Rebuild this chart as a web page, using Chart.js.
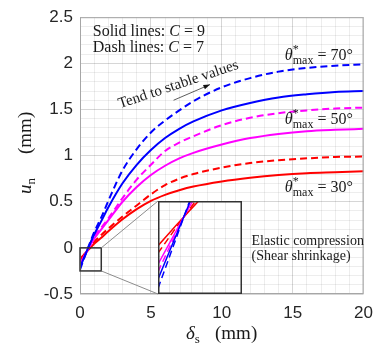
<!DOCTYPE html>
<html>
<head>
<meta charset="utf-8">
<script src="https://cdn.jsdelivr.net/npm/chart.js@4.4.0/dist/chart.umd.min.js"></script>
<style>
  body { margin: 0; background: #fff; }
  #wrap { position: relative; width: 382px; height: 352px; }
  #inset { position: absolute; left: 158px; top: 201px; }
</style>
</head>
<body>
<div id="wrap">
  <canvas id="main" width="382" height="352"></canvas>
  <canvas id="inset" width="84" height="93"></canvas>
</div>
<script>
// shear displacement delta_s (mm)
const slip = [0, 0.25, 0.5, 0.75, 1, 1.5, 2, 3, 4, 5, 6, 7, 8, 10, 12, 14, 16, 18, 20];

// normal displacement u_n (mm), solid = C 9, dashed = C 7
const blueC9 = [-0.21, -0.119, -0.028, 0.06, 0.145, 0.29, 0.44, 0.70, 0.90, 1.06, 1.19, 1.29, 1.37, 1.49, 1.57, 1.63, 1.665, 1.69, 1.70];
const blueC7 = [-0.235, -0.131, -0.027, 0.074, 0.17, 0.33, 0.51, 0.84, 1.07, 1.25, 1.38, 1.49, 1.59, 1.74, 1.84, 1.91, 1.95, 1.975, 1.99];
const magC9 = [-0.17, -0.101, -0.032, 0.035, 0.10, 0.20, 0.30, 0.50, 0.66, 0.79, 0.89, 0.97, 1.03, 1.12, 1.19, 1.235, 1.265, 1.28, 1.29];
const magC7 = [-0.19, -0.11, -0.030, 0.048, 0.125, 0.22, 0.32, 0.54, 0.74, 0.90, 1.05, 1.14, 1.21, 1.33, 1.41, 1.46, 1.49, 1.51, 1.52];
const redC9 = [-0.12, -0.078, -0.036, 0.004, 0.045, 0.11, 0.18, 0.31, 0.42, 0.51, 0.575, 0.625, 0.665, 0.72, 0.76, 0.79, 0.81, 0.82, 0.83];
const redC7 = [-0.14, -0.087, -0.035, 0.016, 0.065, 0.14, 0.21, 0.34, 0.46, 0.58, 0.68, 0.75, 0.80, 0.87, 0.92, 0.95, 0.97, 0.985, 0.99];

const xTicks = [0, 5, 10, 15, 20];
const yTicks = [-0.5, 0, 0.5, 1, 1.5, 2, 2.5];

const SERIF = '"Liberation Serif", "DejaVu Serif", serif';
const SANS = '"Liberation Sans", Arial, sans-serif';

function pts(ys) {
    return slip.map((x, i) => ({ x: x, y: ys[i] }));
}

function makeDatasets(width) {
    const series = [
        [blueC9, '#0000ff', false], [blueC7, '#0000ff', true],
        [magC9, '#ff00ff', false], [magC7, '#ff00ff', true],
        [redC9, '#ff0000', false], [redC7, '#ff0000', true]
    ];
    return series.map(s => ({
        data: pts(s[0]),
        borderColor: s[1],
        borderWidth: width,
        borderDash: s[2] ? [7, 4] : [],
        pointRadius: 0,
        fill: false,
        cubicInterpolationMode: 'monotone'
    }));
}

function isMajor(v, list) {
    return list.some(t => Math.abs(t - v) < 1e-6);
}

// draws text parts one after another; part.stack puts it at the previous part's x,
// part.at puts it at a fixed offset from the start
function drawParts(ctx, x, y, parts) {
    let cx = x, lastX = x;
    parts.forEach(p => {
        ctx.font = p.font;
        let px = p.stack ? lastX : cx;
        if (p.at !== undefined) px = x + p.at;
        ctx.fillText(p.t, px, y + (p.dy || 0));
        const w = ctx.measureText(p.t).width;
        lastX = px;
        cx = Math.max(cx, px + w);
    });
}

function thetaParts(deg) {
    return [
        { t: 'θ', font: 'italic 16px ' + SERIF },
        { t: '*', font: '12px ' + SERIF, dy: -7 },
        { t: 'max', font: '12px ' + SERIF, dy: 4, stack: true },
        { t: ' = ' + deg + '°', font: '16px ' + SERIF }
    ];
}

const overlay = {
    id: 'overlay',
    afterDatasetsDraw(chart) {
        const ctx = chart.ctx;
        const xs = chart.scales.x, ys = chart.scales.y;
        const a = chart.chartArea;
        const X = v => xs.getPixelForValue(v), Y = v => ys.getPixelForValue(v);
        ctx.save();

        // frame
        ctx.strokeStyle = '#a6a6a6';
        ctx.lineWidth = 1;
        ctx.strokeRect(a.left + 0.5, a.top + 0.5, a.right - a.left - 1, a.bottom - a.top - 1);

        // zoom box and connectors
        ctx.strokeStyle = '#333';
        ctx.lineWidth = 1.5;
        ctx.strokeRect(X(0), Y(0), X(1.5) - X(0), Y(-0.25) - Y(0));
        ctx.strokeStyle = '#8c8c8c';
        ctx.lineWidth = 1;
        ctx.beginPath();
        ctx.moveTo(X(1.5), Y(0)); ctx.lineTo(158, 201);
        ctx.moveTo(X(1.5), Y(-0.25)); ctx.lineTo(158, 294);
        ctx.stroke();

        ctx.fillStyle = '#1a1a1a';
        ctx.textBaseline = 'alphabetic';
        ctx.textAlign = 'left';
        drawParts(ctx, X(0.9), Y(2.30), [
            { t: 'Solid lines: ', font: '16px ' + SERIF },
            { t: 'C', font: 'italic 16px ' + SERIF },
            { t: ' = 9', font: '16px ' + SERIF }
        ]);
        drawParts(ctx, X(0.9), Y(2.12), [
            { t: 'Dash lines: ', font: '16px ' + SERIF },
            { t: 'C', font: 'italic 16px ' + SERIF },
            { t: ' = 7', font: '16px ' + SERIF }
        ]);
        drawParts(ctx, X(14.45), Y(2.04), thetaParts(70));
        drawParts(ctx, X(14.45), Y(1.34), thetaParts(50));
        drawParts(ctx, X(14.45), Y(0.61), thetaParts(30));

        drawParts(ctx, X(12.1), Y(0.03), [{ t: 'Elastic compression', font: '14px ' + SERIF }]);
        drawParts(ctx, X(12.1), Y(-0.13), [{ t: '(Shear shrinkage)', font: '14px ' + SERIF }]);

        // rotated note with arrow
        ctx.save();
        ctx.translate(X(6.94), Y(1.77));
        ctx.rotate(-18.5 * Math.PI / 180);
        ctx.textAlign = 'center';
        ctx.font = '15px ' + SERIF;
        ctx.fillText('Tend to stable values', 0, 4);
        ctx.restore();

        const ax0 = X(6.6), ay0 = Y(1.60), ax1 = X(9.17), ay1 = Y(1.77);
        const ang = Math.atan2(ay1 - ay0, ax1 - ax0);
        ctx.strokeStyle = '#333';
        ctx.lineWidth = 0.8;
        ctx.beginPath();
        ctx.moveTo(ax0, ay0); ctx.lineTo(ax1, ay1);
        ctx.stroke();
        ctx.fillStyle = '#111';
        ctx.beginPath();
        ctx.moveTo(ax1, ay1);
        ctx.lineTo(ax1 - 7 * Math.cos(ang - 0.35), ay1 - 7 * Math.sin(ang - 0.35));
        ctx.lineTo(ax1 - 7 * Math.cos(ang + 0.35), ay1 - 7 * Math.sin(ang + 0.35));
        ctx.closePath();
        ctx.fill();

        // axis titles
        ctx.fillStyle = '#1a1a1a';
        drawParts(ctx, 186, 339, [
            { t: 'δ', font: 'italic 19px ' + SERIF },
            { t: 's', font: '13px ' + SERIF, dy: 4 },
            { t: '(mm)', font: '19px ' + SERIF, at: 29 }
        ]);
        ctx.save();
        ctx.translate(31, 194);
        ctx.rotate(-Math.PI / 2);
        drawParts(ctx, 0, 0, [
            { t: 'u', font: 'italic 19px ' + SERIF },
            { t: 'n', font: '13px ' + SERIF, dy: 4 },
            { t: '(mm)', font: '19px ' + SERIF, at: 40 }
        ]);
        ctx.restore();

        ctx.restore();
    }
};

const tickFont = { family: SANS, size: 17 };

new Chart(document.getElementById('main'), {
    type: 'line',
    data: { datasets: makeDatasets(2) },
    options: {
        responsive: false,
        animation: false,
        layout: { padding: { left: 0, right: 14, top: 10, bottom: 0 } },
        plugins: { legend: { display: false }, tooltip: { enabled: false } },
        scales: {
            x: {
                type: 'linear', min: 0, max: 20,
                ticks: {
                    stepSize: 1, autoSkip: false, maxRotation: 0, padding: 9,
                    font: tickFont, color: '#262626',
                    callback: v => isMajor(v, xTicks) ? String(Math.round(v)) : ''
                },
                grid: {
                    drawTicks: false,
                    color: c => isMajor(c.tick.value, xTicks) ? 'rgba(0,0,0,0.16)' : 'rgba(0,0,0,0.07)'
                },
                border: { display: false },
                afterFit: s => { s.height = 58; }
            },
            y: {
                type: 'linear', min: -0.5, max: 2.5,
                ticks: {
                    stepSize: 0.1, autoSkip: false, padding: 7,
                    font: tickFont, color: '#262626',
                    callback: v => isMajor(v, yTicks) ? String(Math.round(v * 2) / 2) : ''
                },
                grid: {
                    drawTicks: false,
                    color: c => isMajor(c.tick.value, yTicks) ? 'rgba(0,0,0,0.16)' : 'rgba(0,0,0,0.07)'
                },
                border: { display: false },
                afterFit: s => { s.width = 80; }
            }
        }
    },
    plugins: [overlay]
});

const insetFrame = {
    id: 'insetFrame',
    beforeDraw(chart) {
        const ctx = chart.ctx;
        ctx.save();
        ctx.fillStyle = '#fff';
        ctx.fillRect(0, 0, chart.width, chart.height);
        ctx.restore();
    },
    afterDatasetsDraw(chart) {
        const ctx = chart.ctx;
        ctx.save();
        ctx.strokeStyle = '#333';
        ctx.lineWidth = 1.5;
        ctx.strokeRect(0.75, 0.75, chart.width - 1.5, chart.height - 1.5);
        ctx.restore();
    }
};

new Chart(document.getElementById('inset'), {
    type: 'line',
    data: { datasets: makeDatasets(1.5) },
    options: {
        responsive: false,
        animation: false,
        layout: { padding: 0 },
        plugins: { legend: { display: false }, tooltip: { enabled: false } },
        scales: {
            x: {
                type: 'linear', min: 0, max: 1.5,
                ticks: { display: false, stepSize: 0.2 },
                grid: { drawTicks: false, color: 'rgba(0,0,0,0.08)' },
                border: { display: false }
            },
            y: {
                type: 'linear', min: -0.25, max: 0,
                ticks: { display: false, stepSize: 0.025 },
                grid: { drawTicks: false, color: 'rgba(0,0,0,0.08)' },
                border: { display: false }
            }
        }
    },
    plugins: [insetFrame]
});
</script>
</body>
</html>
